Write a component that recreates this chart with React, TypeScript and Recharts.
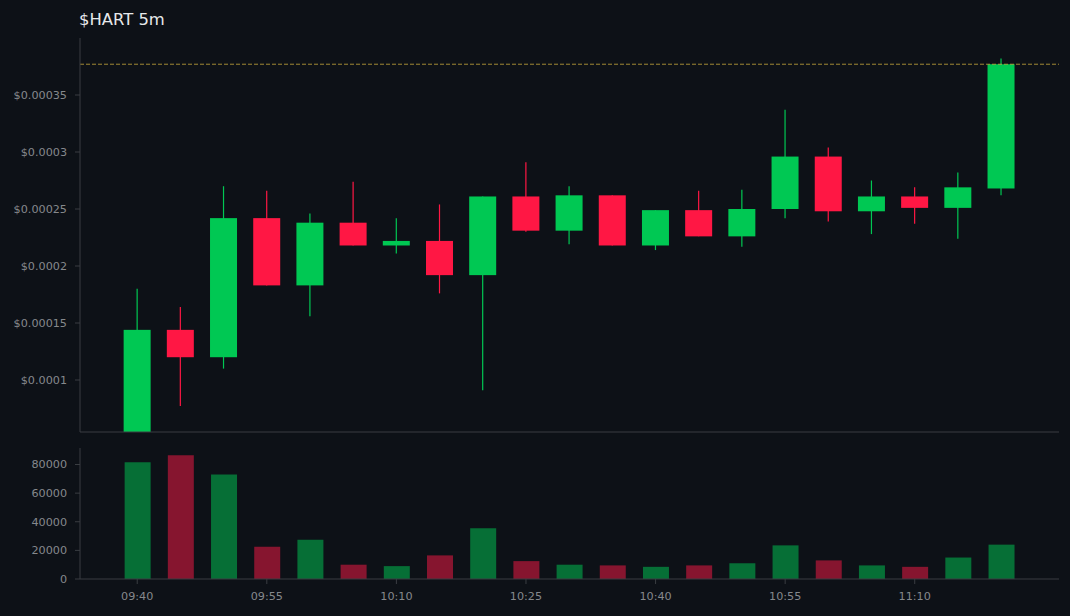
import React from 'react';
import { ComposedChart, Bar, XAxis, YAxis, ReferenceLine, Cell } from 'recharts';

const BG = '#0d1117';
const UP = '#00c853';
const DOWN = '#ff1744';
const VOL_UP = '#066f36';
const VOL_DOWN = '#86152f';
const SPINE = '#3a3d42';
const TICK = '#85888c';

const times = ['09:40', '09:45', '09:50', '09:55', '10:00', '10:05', '10:10', '10:15', '10:20', '10:25', '10:30', '10:35', '10:40', '10:45', '10:50', '10:55', '11:00', '11:05', '11:10', '11:15', '11:20'];
const opens = [0.00005, 0.000144, 0.00012, 0.000242, 0.000183, 0.000238, 0.000218, 0.000222, 0.000192, 0.000261, 0.000231, 0.000262, 0.000218, 0.000249, 0.000226, 0.00025, 0.000296, 0.000248, 0.000261, 0.000251, 0.000268];
const closes = [0.000144, 0.00012, 0.000242, 0.000183, 0.000238, 0.000218, 0.000222, 0.000192, 0.000261, 0.000231, 0.000262, 0.000218, 0.000249, 0.000226, 0.00025, 0.000296, 0.000248, 0.000261, 0.000251, 0.000269, 0.000377];
const highs = [0.00018, 0.000164, 0.00027, 0.000266, 0.000246, 0.000274, 0.000242, 0.000254, 0.000261, 0.000291, 0.00027, 0.000262, 0.000249, 0.000266, 0.000267, 0.000337, 0.000304, 0.000275, 0.000269, 0.000282, 0.000382];
const lows = [0.00005, 0.0000772, 0.00011, 0.000183, 0.000156, 0.000218, 0.000211, 0.000176, 0.000091, 0.00023, 0.000219, 0.000218, 0.000214, 0.000226, 0.000217, 0.000242, 0.000239, 0.000228, 0.000237, 0.000224, 0.000262];
const volumes = [81500, 86500, 73000, 22500, 27500, 10000, 9000, 16500, 35500, 12500, 10000, 9500, 8500, 9500, 11000, 23500, 13000, 9500, 8500, 15000, 24000];
const priceTicks = [0.0001, 0.00015, 0.0002, 0.00025, 0.0003, 0.00035];
const volumeTicks = [0, 20000, 40000, 60000, 80000];
const timeTicks = [0, 3, 6, 9, 12, 15, 18];
const lastPrice = 0.000377;

const rows = times.map((time, i) => ({
  i,
  time,
  open: opens[i],
  close: closes[i],
  range: [lows[i], highs[i]],
  volume: volumes[i],
}));

const xDomain = [-1.325, 21.34];
const tickStyle = { fontSize: 11.2, fill: TICK, fontFamily: 'DejaVu Sans' };

// the bar spans low..high, wick and body are worked out from that span
const Candle = (props: any) => {
  const { x, y, width, height, payload } = props;
  const [low, high] = payload.range;
  const perUnit = height / (high - low);
  const top = y + (high - Math.max(payload.open, payload.close)) * perUnit;
  const bottom = y + (high - Math.min(payload.open, payload.close)) * perUnit;
  const color = payload.close >= payload.open ? UP : DOWN;
  const mid = x + width / 2;
  return (
    <g>
      <line x1={mid} x2={mid} y1={y} y2={y + height} stroke={color} strokeWidth={1.2} />
      <rect x={x} y={top} width={width} height={bottom - top} fill={color} />
    </g>
  );
};

export default function App() {
  return (
    <div style={{ position: 'absolute', left: 0, top: 0, width: 1070, height: 616, background: BG, overflow: 'hidden' }}>
      <div style={{ position: 'absolute', left: 79, top: 10, color: '#e6e8ea', fontSize: 16.4, fontFamily: 'DejaVu Sans', lineHeight: '20px' }}>$HART 5m</div>
      <div style={{ position: 'absolute', left: 0, top: 0 }}>
        <ComposedChart width={1070} height={433} data={rows} margin={{ top: 38, right: 11, bottom: 0, left: 0 }}>
          <XAxis dataKey="i" type="number" domain={xDomain} allowDataOverflow height={1} tick={false} tickLine={false} stroke={SPINE} />
          <YAxis
            width={80}
            domain={[0.0000544, 0.0004]}
            allowDataOverflow
            ticks={priceTicks}
            tickFormatter={(v: number) => `$${v}`}
            tick={tickStyle}
            tickSize={5}
            tickMargin={8}
            stroke={SPINE}
          />
          <ReferenceLine y={lastPrice} stroke="#d4b13f" strokeOpacity={0.75} strokeDasharray="4 2" strokeWidth={1} />
          <Bar dataKey="range" barSize={27} shape={<Candle />} isAnimationActive={false} />
        </ComposedChart>
      </div>
      <div style={{ position: 'absolute', left: 0, top: 433 }}>
        <ComposedChart width={1070} height={183} data={rows} margin={{ top: 15, right: 11, bottom: 0, left: 0 }}>
          <XAxis
            dataKey="i"
            type="number"
            domain={xDomain}
            allowDataOverflow
            ticks={timeTicks}
            tickFormatter={(i: number) => times[i]}
            height={37}
            tick={tickStyle}
            tickSize={5}
            tickMargin={8}
            stroke={SPINE}
          />
          <YAxis
            width={80}
            domain={[0, 91530]}
            allowDataOverflow
            ticks={volumeTicks}
            tick={tickStyle}
            tickSize={5}
            tickMargin={8}
            stroke={SPINE}
          />
          <Bar dataKey="volume" barSize={26} isAnimationActive={false}>
            {rows.map((row) => (
              <Cell key={row.time} fill={row.close >= row.open ? VOL_UP : VOL_DOWN} />
            ))}
          </Bar>
        </ComposedChart>
      </div>
    </div>
  );
}
